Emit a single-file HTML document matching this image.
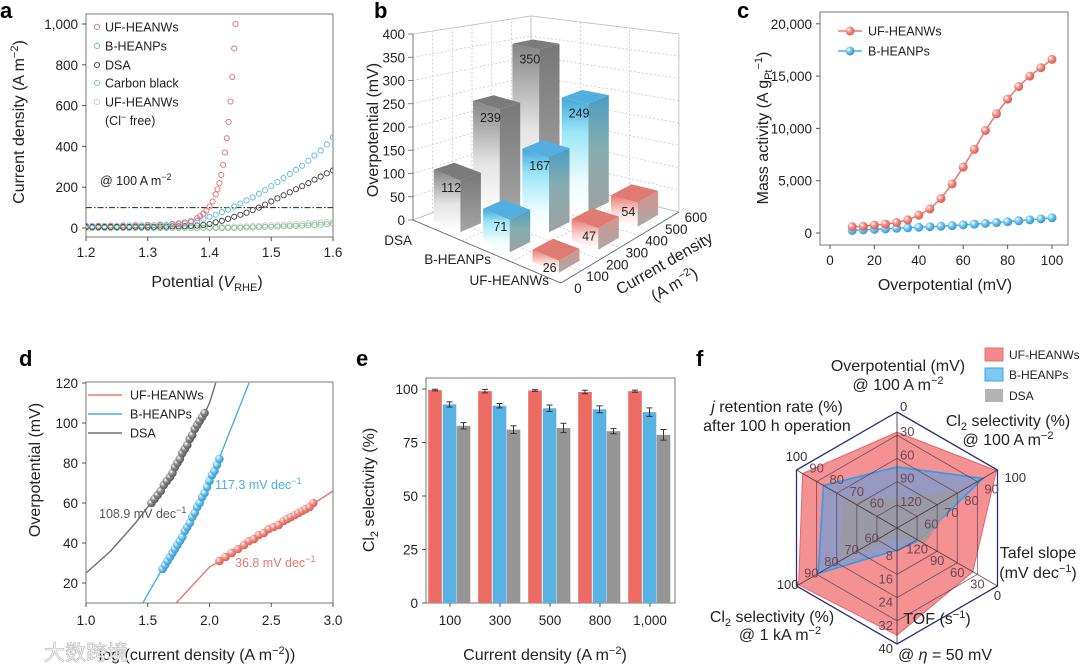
<!DOCTYPE html>
<html><head><meta charset="utf-8">
<style>
body{margin:0;background:#fff}
svg{display:block;font-family:"Liberation Sans","Noto Sans CJK SC",sans-serif}
.tk{font-size:13.5px;fill:#222}
.tt{font-size:16px;fill:#222}
.pl{font-size:22px;font-weight:bold;fill:#000}
.lg{font-size:12.5px;fill:#222}
</style></head>
<body>
<svg id="fig" width="1080" height="668" viewBox="0 0 1080 668">
<defs>
<clipPath id="clipA"><rect x="86" y="14" width="247" height="223"/></clipPath>
<clipPath id="clipD"><rect x="86" y="382" width="247" height="221"/></clipPath>
<linearGradient id="gGrayF" x1="0" y1="0" x2="0" y2="1"><stop offset="0" stop-color="#858585"/><stop offset="0.55" stop-color="#e4e4e4"/><stop offset="1" stop-color="#fff"/></linearGradient>
<linearGradient id="gGrayS" x1="0" y1="0" x2="0" y2="1"><stop offset="0" stop-color="#777"/><stop offset="1" stop-color="#a5a5a5"/></linearGradient>
<linearGradient id="gBlueF" x1="0" y1="0" x2="0" y2="1"><stop offset="0" stop-color="#45a6d8"/><stop offset="0.3" stop-color="#9ae6f8"/><stop offset="0.75" stop-color="#effcff"/><stop offset="1" stop-color="#fff"/></linearGradient>
<linearGradient id="gBlueS" x1="0" y1="0" x2="0" y2="1"><stop offset="0" stop-color="#4a9cc4"/><stop offset="0.45" stop-color="#86aeb0"/><stop offset="1" stop-color="#a0a0a0"/></linearGradient>
<linearGradient id="gRedF" x1="0" y1="0" x2="0" y2="1"><stop offset="0" stop-color="#e87a72"/><stop offset="0.6" stop-color="#fbe3e1"/><stop offset="1" stop-color="#fff"/></linearGradient>
<linearGradient id="gRedS" x1="0" y1="0" x2="0" y2="1"><stop offset="0" stop-color="#d8928c"/><stop offset="1" stop-color="#a8a8a8"/></linearGradient>
<radialGradient id="mRed" cx="0.35" cy="0.35" r="0.7"><stop offset="0" stop-color="#fff"/><stop offset="0.45" stop-color="#f08a80"/><stop offset="1" stop-color="#d9574c"/></radialGradient>
<radialGradient id="mBlue" cx="0.35" cy="0.35" r="0.7"><stop offset="0" stop-color="#fff"/><stop offset="0.45" stop-color="#6cc2ec"/><stop offset="1" stop-color="#2f93cc"/></radialGradient>
<radialGradient id="mGray" cx="0.35" cy="0.35" r="0.7"><stop offset="0" stop-color="#fff"/><stop offset="0.45" stop-color="#8a8a8a"/><stop offset="1" stop-color="#555"/></radialGradient>
</defs>

<text class="pl" x="0" y="18">a</text>
<text class="pl" x="374" y="18">b</text>
<text class="pl" x="737" y="18">c</text>
<text class="pl" x="19" y="366">d</text>
<text class="pl" x="356" y="366">e</text>
<text class="pl" x="696" y="366">f</text>

<g id="pa">
<rect x="86" y="14" width="247" height="223" fill="none" stroke="#777" stroke-width="1"/>
<g id="pa-axes"></g>
<g id="pa-marks" clip-path="url(#clipA)"></g>
<text class="lg" x="100" y="185">@ 100 A m<tspan dy="-5" font-size="9">−2</tspan></text>
<text class="tt" transform="translate(24,122) rotate(-90)" text-anchor="middle">Current density (A m<tspan dy="-6" font-size="11">−2</tspan><tspan dy="6">)</tspan></text>
<text class="tt" x="207" y="287" text-anchor="middle">Potential (<tspan font-style="italic">V</tspan><tspan dy="4" font-size="11">RHE</tspan><tspan dy="-4">)</tspan></text>
<g id="pa-legend"></g>
</g>

<g id="pb">
<g id="pb-walls"></g>
<g id="pb-bars"></g>
<text class="tk" x="412" y="245" text-anchor="end">DSA</text>
<text class="tk" x="491" y="264" text-anchor="end">B-HEANPs</text>
<text class="tk" x="549" y="285" text-anchor="end">UF-HEANWs</text>
<text class="tt" transform="translate(378,130) rotate(-90)" text-anchor="middle">Overpotential (mV)</text>
<text class="tt" transform="translate(667,268) rotate(-30)" text-anchor="middle">Current density</text>
<text class="tt" transform="translate(677,289) rotate(-30)" text-anchor="middle">(A m<tspan dy="-6" font-size="11">−2</tspan><tspan dy="6">)</tspan></text>
</g>

<g id="pc">
<rect x="820" y="12" width="248" height="233" fill="none" stroke="#777"/>
<g id="pc-axes"></g>
<g id="pc-marks"></g>
<text class="tt" transform="translate(768,128) rotate(-90)" text-anchor="middle">Mass activity (A g<tspan dy="4" font-size="11">Pt</tspan><tspan dy="-10" font-size="11">−1</tspan><tspan dy="6">)</tspan></text>
<text class="tt" x="945" y="290" text-anchor="middle">Overpotential (mV)</text>
</g>

<g id="pd">
<rect x="86" y="382" width="247" height="221" fill="none" stroke="#777"/>
<g id="pd-axes"></g>
<g id="pd-marks" clip-path="url(#clipD)"></g>
<text class="lg" x="99" y="518" style="fill:#555">108.9 mV dec<tspan dy="-5" font-size="9">−1</tspan></text>
<text class="lg" x="215" y="489" style="fill:#4aaee0">117.3 mV dec<tspan dy="-5" font-size="9">−1</tspan></text>
<text class="lg" x="235" y="567" style="fill:#e8766c">36.8 mV dec<tspan dy="-5" font-size="9">−1</tspan></text>
<text class="tt" transform="translate(40,470) rotate(-90)" text-anchor="middle">Overpotential (mV)</text>
<text class="tt" x="197" y="660" text-anchor="middle">log (current density (A m<tspan dy="-6" font-size="11">−2</tspan><tspan dy="6">))</tspan></text>
<g id="pd-legend"></g>
</g>

<g id="pe">
<rect x="426" y="378" width="249" height="225" fill="none" stroke="#777"/>
<g id="pe-marks"></g>
<g id="pe-axes"></g>
<text class="tt" transform="translate(374,490) rotate(-90)" text-anchor="middle">Cl<tspan dy="4" font-size="11">2</tspan><tspan dy="-4"> selectivity (%)</tspan></text>
<text class="tt" x="545" y="660" text-anchor="middle">Current density (A m<tspan dy="-6" font-size="11">−2</tspan><tspan dy="6">)</tspan></text>
</g>

<g id="pf">
<g id="pf-areas"></g>
<g id="pf-grid"></g>
<g id="pf-ticks"></g>
<text class="tt" x="898" y="371" text-anchor="middle">Overpotential (mV)</text>
<text class="tt" x="898" y="390" text-anchor="middle">@ 100 A m<tspan dy="-6" font-size="11">−2</tspan></text>
<text class="tt" x="777" y="412" text-anchor="middle"><tspan font-style="italic">j</tspan> retention rate (%)</text>
<text class="tt" x="777" y="431" text-anchor="middle">after 100 h operation</text>
<text class="tt" x="1008" y="426" text-anchor="middle">Cl<tspan dy="4" font-size="11">2</tspan><tspan dy="-4"> selectivity (%)</tspan></text>
<text class="tt" x="1008" y="445" text-anchor="middle">@ 100 A m<tspan dy="-6" font-size="11">−2</tspan></text>
<text class="tt" x="1038" y="558" text-anchor="middle">Tafel slope</text>
<text class="tt" x="1038" y="578" text-anchor="middle">(mV dec<tspan dy="-6" font-size="11">−1</tspan><tspan dy="6">)</tspan></text>
<text class="tt" x="937" y="624" text-anchor="middle">TOF (s<tspan dy="-6" font-size="11">−1</tspan><tspan dy="6">)</tspan></text>
<text class="tt" x="945" y="660" text-anchor="middle">@ <tspan font-style="italic">η</tspan> = 50 mV</text>
<text class="tt" x="772" y="622" text-anchor="middle">Cl<tspan dy="4" font-size="11">2</tspan><tspan dy="-4"> selectivity (%)</tspan></text>
<text class="tt" x="780" y="640" text-anchor="middle">@ 1 kA m<tspan dy="-6" font-size="11">−2</tspan></text>
<g>
<rect x="985" y="348" width="18" height="13" fill="#f4898a" stroke="#e47070"/>
<text x="1009" y="359" font-size="12" fill="#222">UF-HEANWs</text>
<rect x="985" y="368" width="18" height="13" fill="#7ccaf2" stroke="#3aa3e0"/>
<text x="1009" y="379" font-size="12" fill="#222">B-HEANPs</text>
<rect x="985" y="389" width="18" height="13" fill="#b3b3b3"/>
<text x="1009" y="400" font-size="12" fill="#222">DSA</text>
</g>
</g>

<text x="44" y="660" font-size="21" fill="#fff" stroke="#c4c4c4" stroke-width="0.8" font-family="'Noto Sans CJK SC',sans-serif">大数跨境</text>
</svg>

<script>
// Panel a
const aPot = [1.20,1.21,1.22,1.23,1.24,1.25,1.26,1.27,1.28,1.29,1.30,1.31,1.32,1.33,1.34,1.35,1.36,1.37,1.38,1.39,1.40,1.41,1.42,1.43,1.44,1.45,1.46,1.47,1.48,1.49,1.50,1.51,1.52,1.53,1.54,1.55,1.56,1.57,1.58,1.59,1.60];
const aBHEANPs = [10,10,10,10,11,11,11,12,12,13,13,14,15,16,17,18,22,28,35,45,55,65,78,90,105,120,135,150,168,185,205,225,245,265,285,305,330,355,380,410,445];
const aDSA = [5,5,5,5,5,5,5,5,6,6,6,6,7,7,8,8,9,10,12,15,20,28,35,45,55,65,75,88,100,115,130,145,160,175,190,205,220,237,252,268,282];
const aCarbon = [0,0,0,0,0,0,0,0,0,0,0,0,0,0,0,0,0,0,0,0,0,0,0,0,0,1,2,3,4,5,6,7,8,9,10,11,13,14,16,18,20];
const aClFree = [0,0,0,0,0,0,0,0,0,0,0,0,0,0,0,0,0,0,0,2,3,4,5,6,7,8,9,10,11,13,14,15,17,18,20,22,24,26,28,30,33];
const aUFPot = [1.20,1.22,1.24,1.26,1.28,1.30,1.32,1.34,1.35,1.36,1.37,1.38,1.385,1.39,1.395,1.40,1.405,1.41,1.413,1.416,1.419,1.422,1.425,1.428,1.431,1.434,1.437,1.44,1.442];
const aUF = [10,11,12,13,14,15,17,20,23,28,35,48,58,70,85,105,130,165,190,220,260,310,370,440,520,620,740,880,1000];
const aXTicks = [1.2,1.3,1.4,1.5,1.6];
const aYTicks = [0,200,400,600,800,1000];
const aYTickLabels = ['0','200','400','600','800','1,000'];

// Panel b
const bCategories = ['DSA','B-HEANPs','UF-HEANWs'];
const bDensities = [100,300,500];
const bDSA = [112,239,350];
const bBHEANPs = [71,167,249];
const bUFHEANWs = [26,47,54];
const bZTicks = [0,50,100,150,200,250,300,350,400];
const bDepthTicks = [0,100,200,300,400,500,600];

// Panel c
const cEta = [10,15,20,25,30,35,40,45,50,55,60,65,70,75,80,85,90,95,100];
const cUF = [600,650,750,850,1000,1250,1700,2300,3300,4700,6300,8000,9800,11400,12800,14000,15000,15800,16600];
const cB = [250,300,350,400,450,500,550,600,650,700,780,850,920,1000,1080,1170,1260,1350,1450];
const cXTicks = [0,20,40,60,80,100];
const cYTicks = [0,5000,10000,15000,20000];
const cYTickLabels = ['0','5,000','10,000','15,000','20,000'];

// Panel d
const dDSAx = [1.53,1.555,1.58,1.605,1.63,1.655,1.68,1.70,1.72,1.74,1.76,1.78,1.80,1.82,1.84,1.86,1.88,1.90,1.92,1.94,1.96];
const dDSAy = [60,62,64,66,69,71,73,75,78,80,82,85,87,89,92,94,97,99,101,103,105];
const dBx = [1.62,1.64,1.66,1.68,1.70,1.72,1.74,1.76,1.78,1.80,1.82,1.84,1.86,1.88,1.90,1.92,1.94,1.96,1.98,2.00,2.02,2.04,2.06,2.08];
const dBy = [27,29,31,33,35,37,39,41,43,46,48,50,53,55,58,60,63,65,68,71,74,76,79,82];
const dUFx = [2.08,2.13,2.18,2.23,2.28,2.32,2.36,2.40,2.44,2.48,2.52,2.56,2.60,2.63,2.66,2.69,2.72,2.75,2.78,2.81,2.84];
const dUFy = [31,33,35,37,39,41,42,44,45,47,48,49,51,52,53,54,55,56,57,58,60];
const dDSAFitX = [1.0,1.2,1.4,1.6,1.8,2.0,2.05];
const dDSAFitY = [25,36,50,66,84,110,120];
const dBFitX = [1.46,1.7,2.0,2.32];
const dBFitY = [10,36,70,120];
const dUFFitX = [1.73,2.0,2.5,3.0];
const dUFFitY = [10,28,46,66];
const dXTicks = [1.0,1.5,2.0,2.5,3.0];
const dYTicks = [20,40,60,80,100,120];

// Panel e
const eCategories = ['100','300','500','800','1,000'];
const eUF = [99.5,99.0,99.3,98.6,99.0];
const eUFErr = [0.4,0.8,0.4,0.8,0.5];
const eB = [92.8,92.2,91.0,90.5,89.2];
const eBErr = [1.2,1.0,1.5,1.6,2.0];
const eDSA = [82.8,81.0,81.8,80.3,78.6];
const eDSAErr = [1.5,1.8,2.2,1.2,2.5];
const eYTicks = [0,25,50,75,100];

// Panel f
const fUF = [26,99.5,36.8,37,99,97];
const fB = [71,92.8,117.3,7.6,89.2,86.6];
const fDSA = [112,82.8,108.9,3,78.6,76.7];
const fCenter = [150,50,150,0,50,50];
const fOuter = [0,100,0,40,100,100];
const fTicks0 = [0,30,60,90,120];
const fTicks1 = [100,90,80,70,60];
const fTicks2 = [0,30,60,90,120];
const fTicks3 = [40,32,24,16,8];
const fTicks4 = [100,90,80,70,60];
const fTicks5 = [100,90,80,70,60];

const NS = 'http://www.w3.org/2000/svg';
function mk(tag, attrs, parent){
  const e = document.createElementNS(NS, tag);
  for (const k in attrs) e.setAttribute(k, attrs[k]);
  parent.appendChild(e);
  return e;
}
function fmt(v){ return v.toFixed(1); }

// ---------- PANEL A ----------
(function(){
  const ax = document.getElementById('pa-axes');
  const g = document.getElementById('pa-marks');
  const lg = document.getElementById('pa-legend');
  const xa = v => 86 + (v-1.2)/0.4*247;
  const ya = v => 228 - v*0.204;
  aXTicks.forEach(t=>{
    const l = mk('line',{x1:xa(t),x2:xa(t),y1:237,y2:241,stroke:'#555'},ax);
    
    
    const tx = mk('text',{x:xa(t),y:257,'text-anchor':'middle',class:'tk'},ax);
    tx.textContent = fmt(t);
    
    
  });
  aYTicks.forEach((t,i)=>{
    const l = mk('line',{x1:82,x2:86,y1:ya(t),y2:ya(t),stroke:'#555'},ax);
    
    
    const tx = mk('text',{x:78,y:ya(t)+5,'text-anchor':'end',class:'tk'},ax);
    tx.textContent = aYTickLabels[i];
    
    
  });
  const ref = mk('line',{x1:86,x2:333,y1:ya(100),y2:ya(100),stroke:'#222','stroke-width':1,'stroke-dasharray':'6 2 1.5 2'},g);
  
  
  const series = [
    [aPot,aClFree,'#c9c9c9','uf-heanws-cl-free-point'],
    [aPot,aCarbon,'#7cc48c','carbon-black-point'],
    [aPot,aDSA,'#3a3a3a','dsa-point'],
    [aPot,aBHEANPs,'#5ab8ea','b-heanps-point'],
    [aUFPot,aUF,'#ea6d6d','uf-heanws-point']
  ];
  series.forEach(s=>{
    s[0].forEach((x,i)=>{
      const c = mk('circle',{cx:xa(x),cy:ya(s[1][i]),r:2.6,fill:'none',stroke:s[2],'stroke-width':0.9},g);
      
      
    });
  });
  const leg = [['UF-HEANWs','#ea6d6d',27],['B-HEANPs','#5ab8ea',46],['DSA','#3a3a3a',65],['Carbon black','#7cc48c',83],['UF-HEANWs','#c9c9c9',102]];
  leg.forEach(L=>{
    const c = mk('circle',{cx:97,cy:L[2],r:2.6,fill:'none',stroke:L[1],'stroke-width':0.9},lg);
    
    
    const t = mk('text',{x:105,y:L[2]+4.5,class:'lg'},lg);
    t.textContent = L[0];
    
    
  });
  const t2 = mk('text',{x:105,y:125,class:'lg'},lg);
  t2.innerHTML = '(Cl<tspan dy="-5" font-size="9">−</tspan><tspan dy="5"> free)</tspan>';
  
  
})();

// ---------- PANEL B ----------
(function(){
  const walls = document.getElementById('pb-walls');
  const bars = document.getElementById('pb-bars');
  function P(ci,cd,z){
    const t = cd/600;
    return [413 + ci*49.3 + t*118, 220 + ci*21 - t*(44+9*ci) - z*(0.465 - t*(0.065-0.015*ci))];
  }
  function poly(pts, attrs, parent){
    attrs.points = pts.map(p=>p[0].toFixed(1)+','+p[1].toFixed(1)).join(' ');
    return mk('polygon', attrs, parent);
  }
  const lw = poly([P(0,0,0),P(0,600,0),P(0,600,400),P(0,0,400)],{fill:'#fff',stroke:'#bbb','stroke-width':0.8},walls);
  
  
  const bw = poly([P(0,600,0),P(3,600,0),P(3,600,400),P(0,600,400)],{fill:'#fff',stroke:'#bbb','stroke-width':0.8},walls);
  
  
  const fl = poly([P(0,0,0),P(3,0,0),P(3,600,0),P(0,600,0)],{fill:'#fff',stroke:'#bbb','stroke-width':0.8},walls);
  
  
  function ln(a,b,dash,name,col){
    const l = mk('line',{x1:a[0],y1:a[1],x2:b[0],y2:b[1],stroke:col||'#c8c8c8','stroke-width':0.8,'stroke-dasharray':dash||'none'},walls);
    
    
  }
  bZTicks.forEach(z=>{ if(z>0){ ln(P(0,0,z),P(0,600,z),'2 2','grid-line-b'); ln(P(0,600,z),P(3,600,z),'2 2','grid-line-b'); } });
  bDepthTicks.forEach(d=>{ if(d>0&&d<600){ ln(P(0,d,0),P(0,d,400),'2 2','grid-line-b'); ln(P(0,d,0),P(3,d,0),'2 2','grid-line-b'); } });
  [1,2].forEach(c=>{ ln(P(c,600,0),P(c,600,400),'2 2','grid-line-b'); ln(P(c,0,0),P(c,600,0),'2 2','grid-line-b'); });
  ln(P(0,0,0),P(0,0,400),null,'z-axis-line','#666');
  ln(P(0,0,0),P(3,0,0),null,'category-axis-line','#666');
  ln(P(3,0,0),P(3,600,0),null,'depth-axis-line','#666');
  bZTicks.forEach(z=>{
    const p = P(0,0,z);
    ln([p[0]-5,p[1]],p,null,'z-tick-b','#666');
    const t = mk('text',{x:p[0]-8,y:p[1]+5,'text-anchor':'end',class:'tk'},walls);
    t.textContent = z;
    
    
  });
  bDepthTicks.forEach(d=>{
    const p = P(3,d,0);
    const t = mk('text',{x:p[0]+17,y:p[1]+10,'text-anchor':'middle',class:'tk'},walls);
    t.textContent = d;
    
    
  });
  const series = [[bDSA,'Gray','#7b7b7b'],[bBHEANPs,'Blue','#52afe0'],[bUFHEANWs,'Red','#e07a72']];
  const list = [];
  series.forEach((s,ci)=>{
    bDensities.forEach((d,j)=>{ list.push({c:ci+0.5,d:d,h:s[0][j],col:s[1],top:s[2],name:bCategories[ci]}); });
  });
  list.sort((a,b)=>(a.c - a.d/200) - (b.c - b.d/200));
  const hw = 0.27, hd = 52;
  list.forEach(B=>{
    const g = mk('g',{},bars);
    
    
    const c0=B.c-hw, c1=B.c+hw, d0=B.d-hd, d1=B.d+hd;
    const f = poly([P(c0,d0,0),P(c1,d0,0),P(c1,d0,B.h),P(c0,d0,B.h)],{fill:'url(#g'+B.col+'F)'},g);
    
    
    const s = poly([P(c1,d0,0),P(c1,d1,0),P(c1,d1,B.h),P(c1,d0,B.h)],{fill:'url(#g'+B.col+'S)'},g);
    
    
    const tp = poly([P(c0,d0,B.h),P(c1,d0,B.h),P(c1,d1,B.h),P(c0,d1,B.h)],{fill:B.top},g);
    
    
    const a = P(c0,d0,B.h), b = P(c1,d0,B.h);
    const t = mk('text',{x:(a[0]+b[0])/2+4,y:(a[1]+b[1])/2+17,'text-anchor':'middle','font-size':12.5,fill:'#222'},g);
    t.textContent = B.h;
    
    
  });
})();

// ---------- PANEL C ----------
(function(){
  const ax = document.getElementById('pc-axes');
  const g = document.getElementById('pc-marks');
  const xc = v => 830 + v*2.22;
  const yc = v => 233 - v*0.01046;
  cXTicks.forEach(t=>{
    const l = mk('line',{x1:xc(t),x2:xc(t),y1:245,y2:249,stroke:'#555'},ax);
    
    
    const tx = mk('text',{x:xc(t),y:265,'text-anchor':'middle',class:'tk'},ax);
    tx.textContent = t;
    
    
  });
  cYTicks.forEach((t,i)=>{
    const l = mk('line',{x1:816,x2:820,y1:yc(t),y2:yc(t),stroke:'#555'},ax);
    
    
    const tx = mk('text',{x:812,y:yc(t)+5,'text-anchor':'end',class:'tk'},ax);
    tx.textContent = cYTickLabels[i];
    
    
  });
  [[cB,'#4aaee6','url(#mBlue)','b-heanps'],[cUF,'#e8766c','url(#mRed)','uf-heanws']].forEach(s=>{
    const pl = mk('polyline',{points:cEta.map((x,i)=>xc(x)+','+yc(s[0][i])).join(' '),fill:'none',stroke:s[1],'stroke-width':1.5},g);
    
    
    cEta.forEach((x,i)=>{
      const c = mk('circle',{cx:xc(x),cy:yc(s[0][i]),r:4.5,fill:s[2]},g);
      
      
    });
  });
  [['UF-HEANWs','#e8766c','url(#mRed)',31],['B-HEANPs','#4aaee6','url(#mBlue)',51]].forEach(L=>{
    const l = mk('line',{x1:838,x2:862,y1:L[3],y2:L[3],stroke:L[1],'stroke-width':1.5},g);
    
    
    const c = mk('circle',{cx:850,cy:L[3],r:4.5,fill:L[2]},g);
    
    
    const t = mk('text',{x:868,y:L[3]+4.5,class:'lg'},g);
    t.textContent = L[0];
    
    
  });
})();

// ---------- PANEL D ----------
(function(){
  const ax = document.getElementById('pd-axes');
  const g = document.getElementById('pd-marks');
  const lg = document.getElementById('pd-legend');
  const xd = v => 86 + (v-1)*123.5;
  const yd = v => 583 - (v-20)*2.0;
  dXTicks.forEach(t=>{
    const l = mk('line',{x1:xd(t),x2:xd(t),y1:603,y2:607,stroke:'#555'},ax);
    
    
    const tx = mk('text',{x:xd(t),y:625,'text-anchor':'middle',class:'tk'},ax);
    tx.textContent = fmt(t);
    
    
  });
  dYTicks.forEach(t=>{
    const l = mk('line',{x1:82,x2:86,y1:yd(t),y2:yd(t),stroke:'#555'},ax);
    
    
    const tx = mk('text',{x:78,y:yd(t)+5,'text-anchor':'end',class:'tk'},ax);
    tx.textContent = t;
    
    
  });
  const fits = [[dDSAFitX,dDSAFitY,'#6e6e6e','dsa-fit-line'],[dBFitX,dBFitY,'#4aaee6','b-heanps-fit-line'],[dUFFitX,dUFFitY,'#e8766c','uf-heanws-fit-line']];
  fits.forEach(f=>{
    const pl = mk('polyline',{points:f[0].map((x,i)=>xd(x)+','+yd(f[1][i])).join(' '),fill:'none',stroke:f[2],'stroke-width':1.4},g);
    
    
  });
  const pts = [[dDSAx,dDSAy,'url(#mGray)','dsa-point'],[dBx,dBy,'url(#mBlue)','b-heanps-point'],[dUFx,dUFy,'url(#mRed)','uf-heanws-point']];
  pts.forEach(s=>{
    s[0].forEach((x,i)=>{
      const c = mk('circle',{cx:xd(x),cy:yd(s[1][i]),r:4.3,fill:s[2]},g);
      
      
    });
  });
  [['UF-HEANWs','#e8766c',395],['B-HEANPs','#4aaee6',414],['DSA','#6e6e6e',433]].forEach(L=>{
    const l = mk('line',{x1:88,x2:122,y1:L[2],y2:L[2],stroke:L[1],'stroke-width':1.5},lg);
    
    
    const t = mk('text',{x:130,y:L[2]+4.5,class:'lg'},lg);
    t.textContent = L[0];
    
    
  });
})();

// ---------- PANEL E ----------
(function(){
  const ax = document.getElementById('pe-axes');
  const g = document.getElementById('pe-marks');
  const xe = i => 450 + i*50;
  const ye = v => 603 - v*2.14;
  eYTicks.forEach(t=>{
    const l = mk('line',{x1:422,x2:426,y1:ye(t),y2:ye(t),stroke:'#555'},ax);
    
    
    const tx = mk('text',{x:418,y:ye(t)+5,'text-anchor':'end',class:'tk'},ax);
    tx.textContent = t;
    
    
  });
  eCategories.forEach((c,i)=>{
    const l = mk('line',{x1:xe(i),x2:xe(i),y1:603,y2:607,stroke:'#555'},ax);
    
    
    const tx = mk('text',{x:xe(i),y:625,'text-anchor':'middle',class:'tk'},ax);
    tx.textContent = c;
    
    
  });
  const series = [[eUF,eUFErr,'#ec6c63',-15,'uf-heanws'],[eB,eBErr,'#58b2e4',-0.5,'b-heanps'],[eDSA,eDSAErr,'#959595',13.5,'dsa']];
  eCategories.forEach((c,i)=>{
    series.forEach(s=>{
      const cx = xe(i)+s[3], v = s[0][i], e = s[1][i];
      const r = mk('rect',{x:cx-6.8,y:ye(v),width:13.6,height:603-ye(v),fill:s[2]},g);
      
      
      const eb = mk('path',{d:`M${cx},${ye(v+e)}V${ye(v-e)}M${cx-3},${ye(v+e)}H${cx+3}M${cx-3},${ye(v-e)}H${cx+3}`,stroke:'#333','stroke-width':1,fill:'none'},g);
      
      
    });
  });
})();

// ---------- PANEL F ----------
(function(){
  const areas = document.getElementById('pf-areas');
  const grid = document.getElementById('pf-grid');
  const tk = document.getElementById('pf-ticks');
  const CX = 897, CY = 528, R = 116;
  const ang = k => (-90 + 60*k) * Math.PI/180;
  const pt = (k,r) => [CX + r*Math.cos(ang(k)), CY + r*Math.sin(ang(k))];
  const rv = (k,v) => Math.max(0, R*(v - fCenter[k])/(fOuter[k]-fCenter[k]));
  function shape(vals, attrs, name){
    attrs.points = vals.map((v,k)=>pt(k,rv(k,v)).map(n=>n.toFixed(1)).join(',')).join(' ');
    const p = mk('polygon', attrs, areas);
    
    
  }
  shape(fUF,{fill:'#f27e80','fill-opacity':0.85,stroke:'#e86868','stroke-width':1},'radar-uf-heanws');
  shape(fB,{fill:'#5a9ee0','fill-opacity':0.6,stroke:'#2f9ee6','stroke-width':1.6},'radar-b-heanps');
  shape(fDSA,{fill:'#9a9a9a','fill-opacity':0.7,stroke:'none'},'radar-dsa');
  for(let i=1;i<=5;i++){
    const r = R*i/5;
    const pts = [0,1,2,3,4,5].map(k=>pt(k,r).map(n=>n.toFixed(1)).join(',')).join(' ');
    const h = mk('polygon',{points:pts,fill:'none',stroke:i===5?'#2a2f7c':'#5b3a55','stroke-width':i===5?1.3:0.9,'stroke-opacity':i===5?1:0.75},grid);
    
    
  }
  for(let k=0;k<6;k++){
    const p = pt(k,R);
    const l = mk('line',{x1:CX,y1:CY,x2:p[0],y2:p[1],stroke:'#3a2a3a','stroke-width':1,'stroke-opacity':0.8},grid);
    
    
  }
  const tickSets = [fTicks0,fTicks1,fTicks2,fTicks3,fTicks4,fTicks5];
  const offs = [[3,1,'start'],[7,12,'start'],[0,14,'middle'],[-4,9,'end'],[2,3,'end'],[0,-9,'middle']];
  tickSets.forEach((set,k)=>{
    set.forEach((v,i)=>{
      const p = pt(k, rv(k,v));
      const o = offs[k];
      const t = mk('text',{x:p[0]+o[0],y:p[1]+o[1]+(i===0&&k===0?-2:0),'text-anchor':o[2],'font-size':13,fill:i===0?'#333':'#6b4758'},tk);
      t.textContent = v;
      
      
    });
  });
})();
</script>
</body></html>
